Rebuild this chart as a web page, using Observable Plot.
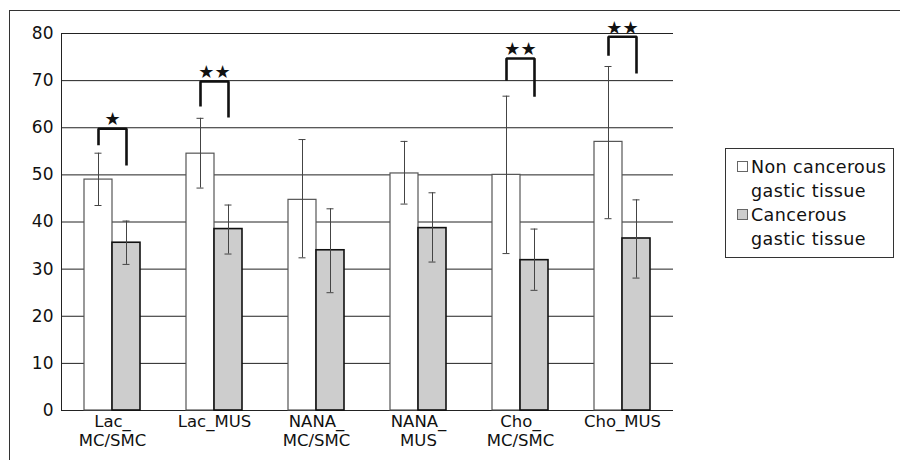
<!DOCTYPE html>
<html>
<head>
<meta charset="utf-8">
<script src="https://cdn.jsdelivr.net/npm/d3@7"></script>
<script src="https://cdn.jsdelivr.net/npm/@observablehq/plot@0.6"></script>
<style>
  html, body { margin: 0; padding: 0; background: #fff; }
  #wrap { position: relative; width: 900px; height: 460px; overflow: hidden; font-family: "DejaVu Sans", sans-serif; }
  #frame { position: absolute; left: 9px; top: 10px; right: -5px; bottom: -5px; border-left: 1.5px solid #333; border-top: 1.5px solid #333; }
  #chart { position: absolute; left: 0; top: 0; }
  #legend { position: absolute; left: 725px; top: 148px; width: 167px; height: 108px; border: 1.2px solid #333; background: #fff; font-size: 17.5px; letter-spacing: 0.4px; color: #111; }
  .item { position: absolute; left: 11px; }
  .sw { display: inline-block; width: 9px; height: 9px; border: 1px solid #666; margin-right: 3px; vertical-align: 1px; }
  .l { line-height: 24px; }
  .ind { padding-left: 14px; }
</style>
</head>
<body>
<div id="wrap">
  <div id="frame"></div>
  <div id="chart"></div>
  <div id="legend"></div>
</div>
<script>
// ---- data ----
const categories = ["Lac_MC/SMC", "Lac_MUS", "NANA_MC/SMC", "NANA_MUS", "Cho_MC/SMC", "Cho_MUS"];
const tickLabels = ["Lac_\nMC/SMC", "Lac_MUS", "NANA_\nMC/SMC", "NANA_\nMUS", "Cho_\nMC/SMC", "Cho_MUS"];
const series = ["Non cancerous gastic tissue", "Cancerous gastic tissue"];
const legendLines = [["Non cancerous", "gastic tissue"], ["Cancerous", "gastic tissue"]];

const nonMean = [49.0, 54.5, 44.7, 50.3, 50.0, 57.0];
const nonLow  = [43.5, 47.2, 32.4, 43.8, 33.3, 40.7];
const nonHigh = [54.6, 62.0, 57.5, 57.1, 66.7, 73.0];

const canMean = [35.6, 38.5, 34.0, 38.7, 31.9, 36.5];
const canLow  = [31.0, 33.2, 25.0, 31.5, 25.5, 28.1];
const canHigh = [40.2, 43.6, 42.8, 46.2, 38.5, 44.7];

const yTicks = [0, 10, 20, 30, 40, 50, 60, 70, 80];

// significance brackets
const bracketCats  = ["Lac_MC/SMC", "Lac_MUS", "Cho_MC/SMC", "Cho_MUS"];
const bracketTop   = [59.8, 69.8, 74.7, 79.3];
const bracketLeft  = [56.3, 64.5, 70.0, 75.3];
const bracketRight = [52.0, 62.2, 66.6, 71.5];
const bracketStars = ["★", "★★", "★★", "★★"];

// ---- tables built from the arrays ----
const nonRows = categories.map((c, i) => ({cat: c, series: series[0], mean: nonMean[i], lo: nonLow[i], hi: nonHigh[i]}));
const canRows = categories.map((c, i) => ({cat: c, series: series[1], mean: canMean[i], lo: canLow[i], hi: canHigh[i]}));
const allRows = nonRows.concat(canRows);
const bracketRows = bracketCats.map((c, i) => ({cat: c, top: bracketTop[i], stars: bracketStars[i]}));
const bracketPts = bracketCats.flatMap((c, i) => [
  {cat: c, x: series[0], y: bracketLeft[i]},
  {cat: c, x: series[0], y: bracketTop[i]},
  {cat: c, x: series[1], y: bracketTop[i]},
  {cat: c, x: series[1], y: bracketRight[i]}
]);
const labelOf = new Map(categories.map((c, i) => [c, tickLabels[i]]));

const chart = Plot.plot({
  width: 900,
  height: 460,
  marginLeft: 59,
  marginRight: 225,
  marginTop: 33,
  marginBottom: 50,
  style: {fontFamily: "DejaVu Sans, sans-serif", background: "transparent", color: "#111", overflow: "visible"},
  fx: {domain: categories, padding: 0, label: null},
  x: {domain: series, paddingInner: 0, paddingOuter: 0.77, axis: null},
  y: {domain: [0, 80], axis: null},
  marks: [
    Plot.ruleY(yTicks, {stroke: "#222", strokeWidth: 1}),
    Plot.barY(nonRows, {fx: "cat", x: "series", y: "mean", fill: "white", stroke: "#555", strokeWidth: 1.2}),
    Plot.barY(canRows, {fx: "cat", x: "series", y: "mean", fill: "#cdcdcd", stroke: "#111", strokeWidth: 1.6}),
    Plot.ruleX(allRows, {fx: "cat", x: "series", y1: "lo", y2: "hi", stroke: "#444", strokeWidth: 1}),
    Plot.tickY(allRows, {fx: "cat", x: "series", y: "lo", stroke: "#444", strokeWidth: 1, insetLeft: 10.5, insetRight: 10.5}),
    Plot.tickY(allRows, {fx: "cat", x: "series", y: "hi", stroke: "#444", strokeWidth: 1, insetLeft: 10.5, insetRight: 10.5}),
    Plot.line(bracketPts, {fx: "cat", x: "x", y: "y", z: "cat", stroke: "#111", strokeWidth: 2.6, strokeLinejoin: "miter", strokeLinecap: "butt"}),
    Plot.text(bracketRows, {fx: "cat", y: "top", text: "stars", dy: -9, fontSize: 18, fill: "#111"}),
    Plot.axisY({ticks: yTicks, tickSize: 0, tickPadding: 8, fontSize: 17, label: null}),
    Plot.axisFx({anchor: "bottom", tickSize: 0, tickPadding: 3, fontSize: 16.5, lineHeight: 1.15, label: null, tickFormat: d => labelOf.get(d)}),
    Plot.frame({anchor: "left", facetAnchor: "left", stroke: "#222"})
  ]
});
document.getElementById("chart").appendChild(chart);

// legend
const lg = document.getElementById("legend");
const fills = ["#ffffff", "#cdcdcd"];
legendLines.forEach((lines, i) => {
  const div = document.createElement("div");
  div.className = "item";
  div.style.top = (6 + i * 48) + "px";
  div.innerHTML = `<div class="l"><span class="sw" style="background:${fills[i]}"></span>${lines[0]}</div><div class="l ind">${lines[1]}</div>`;
  lg.appendChild(div);
});
</script>
</body>
</html>
